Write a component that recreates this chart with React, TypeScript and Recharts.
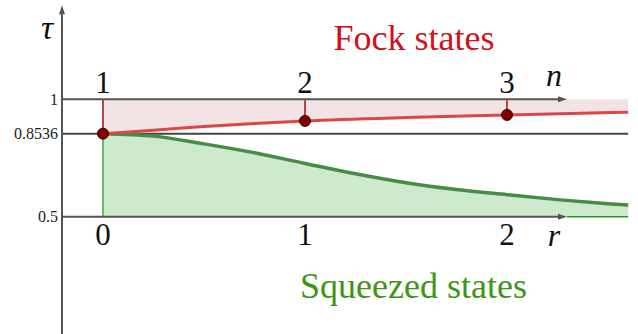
import React from 'react';
import { ComposedChart, Area, Line, Scatter, XAxis, YAxis, ReferenceLine, ReferenceDot } from 'recharts';

// ---- data ----
const fockN = [1, 1.25, 1.5, 1.75, 2, 2.5, 3, 3.6];
const fockTau = [0.8536, 0.868, 0.884, 0.897, 0.9076, 0.922, 0.933, 0.9446];
const fockPointN = [1, 2, 3];
const fockPointTau = [0.8536, 0.9076, 0.933];
const squeezedR = [0, 0.25, 0.5, 0.75, 1, 1.25, 1.5, 1.75, 2, 2.25, 2.5, 2.6];
const squeezedTau = [0.8536, 0.843, 0.81, 0.772, 0.727, 0.683, 0.645, 0.616, 0.594, 0.573, 0.556, 0.55];
const tauTicks = [0.5, 0.8536, 1];
const tauTickLabels = ['0.5', '0.8536', '1'];
const nTicks = [1, 2, 3];
const rTicks = [0, 1, 2];

// ---- layout constants ----
const X_MIN = -0.203;
const X_MAX = 2.6485;
const Y_MIN = 0.0017;
const Y_MAX = 1.4218;
const X_END = 2.6;
const ARROW_END = 2.297;
const V_ARROW_TOP = 1.4;
const SERIF = '"Liberation Serif", serif';

const fockData = fockN.map((n, i) => ({ x: n - 1, tau: fockTau[i], band: [fockTau[i], 1] }));
const squeezedData = squeezedR.map((r, i) => ({ x: r, tau: squeezedTau[i], band: [0.5, squeezedTau[i]] }));
const pointData = fockPointN.map((n, i) => ({ x: n - 1, tau: fockPointTau[i] }));

const arrowShape = (label?: string, ldx = 0, ldy = 0) => (props: any) => {
  const { x1, y1, x2, y2 } = props;
  const dx = x2 - x1;
  const dy = y2 - y1;
  const len = Math.hypot(dx, dy) || 1;
  const ux = dx / len;
  const uy = dy / len;
  const L = 9;
  const W = 3;
  const bx = x2 - ux * L;
  const by = y2 - uy * L;
  const pts = `${x2},${y2} ${bx - uy * W},${by + ux * W} ${bx + uy * W},${by - ux * W}`;
  return (
    <g>
      <line x1={x1} y1={y1} x2={bx + ux} y2={by + uy} stroke="#555" strokeWidth={2} />
      <polygon points={pts} fill="#555" />
      {label ? (
        <text
          x={x2 + ldx}
          y={y2 + ldy}
          textAnchor="middle"
          style={{ fontFamily: SERIF, fontStyle: 'italic', fontSize: label === 'τ' ? 34 : 32 }}
          fill="#111"
        >
          {label}
        </text>
      ) : null}
    </g>
  );
};

const textShape = (value: string, dy: number, color: string, size: number) => (p: any) => (
  <text
    x={p.cx}
    y={p.cy + dy}
    textAnchor="middle"
    style={{ fontFamily: SERIF, fontSize: size }}
    fill={color}
  >
    {value}
  </text>
);

export default function App() {
  return (
    <div
      style={{
        position: 'absolute',
        left: 0,
        top: 0,
        width: 638,
        height: 334,
        background: '#fff',
        fontFamily: SERIF,
      }}
    >
      <ComposedChart width={638} height={334} margin={{ top: 0, right: 0, bottom: 0, left: 0 }}>
        <XAxis dataKey="x" type="number" domain={[X_MIN, X_MAX]} allowDataOverflow hide />
        <YAxis
          type="number"
          domain={[Y_MIN, Y_MAX]}
          allowDataOverflow
          width={62}
          ticks={tauTicks}
          interval={0}
          tickLine={false}
          axisLine={false}
          tickSize={2}
          tickMargin={2}
          tickFormatter={(v: number) => tauTickLabels[tauTicks.indexOf(v)] ?? String(v)}
          tick={{ fontFamily: SERIF, fontSize: 16, fill: '#222', style: { fontFamily: SERIF } }}
        />
        <Area
          data={fockData}
          dataKey="band"
          type="monotone"
          fill="#f2e4e5"
          fillOpacity={1}
          stroke="none"
          isAnimationActive={false}
        />
        <Area
          data={squeezedData}
          dataKey="band"
          type="monotone"
          fill="#cdeacc"
          fillOpacity={1}
          stroke="none"
          isAnimationActive={false}
        />
        <ReferenceLine segment={[{ x: 0, y: 0.5 }, { x: 0, y: 0.8536 }]} stroke="#66bb66" strokeWidth={2} />
        <ReferenceLine segment={[{ x: ARROW_END, y: 0.5 }, { x: X_END, y: 0.5 }]} stroke="#2a9a2a" strokeWidth={1.5} />
        <ReferenceLine segment={[{ x: X_MIN, y: 0.8536 }, { x: X_END, y: 0.8536 }]} stroke="#444" strokeWidth={2} />
        <ReferenceLine segment={[{ x: X_MIN, y: 1 }, { x: ARROW_END, y: 1 }]} shape={arrowShape('n', -13, -13)} />
        <ReferenceLine segment={[{ x: X_MIN, y: 0.5 }, { x: ARROW_END, y: 0.5 }]} shape={arrowShape('r', -13, 29)} />
        <ReferenceLine
          segment={[{ x: X_MIN, y: Y_MIN }, { x: X_MIN, y: V_ARROW_TOP }]}
          shape={arrowShape('τ', -15, 34)}
        />
        {pointData.map((p) => (
          <ReferenceLine
            key={'stem' + p.x}
            segment={[{ x: p.x, y: p.tau }, { x: p.x, y: 1 }]}
            stroke="#b04848"
            strokeWidth={2}
          />
        ))}
        <Line
          data={squeezedData}
          dataKey="tau"
          type="monotone"
          stroke="#468c46"
          strokeWidth={3.5}
          dot={false}
          activeDot={false}
          isAnimationActive={false}
        />
        <Line
          data={fockData}
          dataKey="tau"
          type="monotone"
          stroke="#dc4646"
          strokeWidth={3}
          dot={false}
          activeDot={false}
          isAnimationActive={false}
        />
        <Scatter
          data={pointData}
          dataKey="tau"
          isAnimationActive={false}
          shape={(p: any) => <circle cx={p.cx} cy={p.cy} r={5.5} fill="#7f0000" stroke="#3a0000" strokeWidth={1} />}
        />
        {nTicks.map((n) => (
          <ReferenceDot key={'n' + n} x={n - 1} y={1} r={0} shape={textShape(String(n), -6.5, '#111', 31)} />
        ))}
        {rTicks.map((r) => (
          <ReferenceDot key={'r' + r} x={r} y={0.5} r={0} shape={textShape(String(r), 28.5, '#111', 31)} />
        ))}
        <ReferenceDot x={1.54} y={1.209} r={0} shape={textShape('Fock states', 0, '#d0101a', 36)} />
        <ReferenceDot x={1.537} y={0.1535} r={0} shape={textShape('Squeezed states', 0, '#3c9614', 36)} />
      </ComposedChart>
    </div>
  );
}
